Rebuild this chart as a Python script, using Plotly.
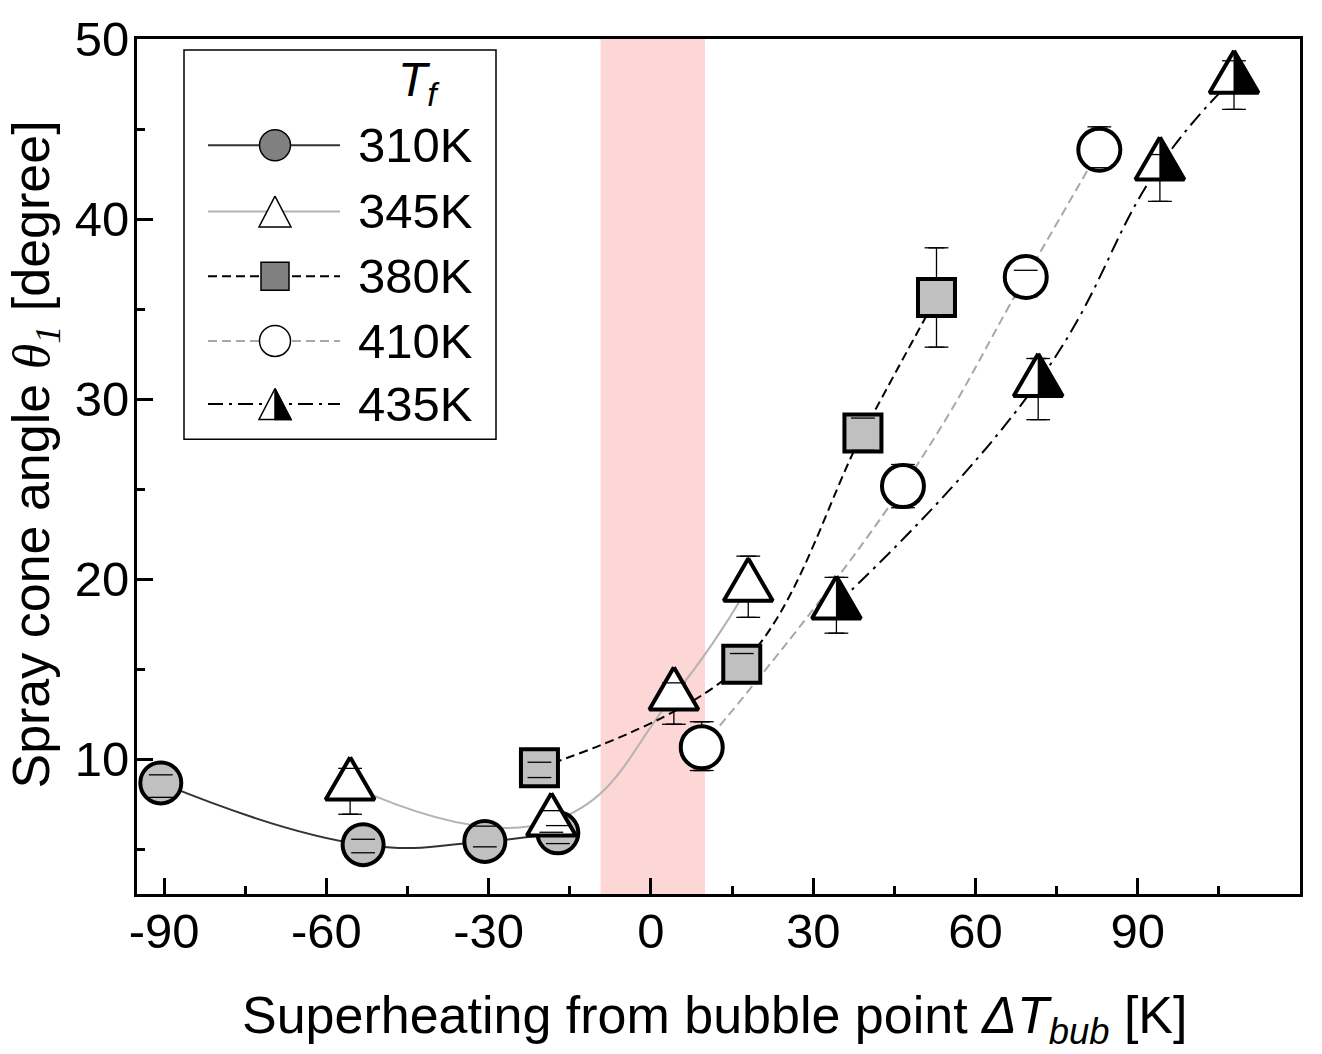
import plotly.graph_objects as go

# ---- measured data: spray cone angle vs. superheating, per fuel temperature ----
labels = ["310K", "345K", "380K", "410K", "435K"]

dT_310 = [-90.6, -53.2, -30.7, -17.2]
theta_310 = [8.67, 5.24, 5.42, 5.90]
err_up_310 = [0.45, 0.3, 0.85, 0.4]
err_dn_310 = [0.8, 0.45, 0.3, 0.6]

dT_345 = [-55.6, -18.4, 4.25, 18.0]
theta_345 = [8.53, 6.53, 13.53, 19.57]
err_up_345 = [0.95, 0.6, 0.7, 1.7]
err_dn_345 = [1.6, 0.6, 1.6, 1.7]

dT_380 = [-20.6, 16.8, 39.2, 52.8]
theta_380 = [9.52, 15.26, 28.11, 35.64]
err_up_380 = [0.3, 0.6, 0.83, 2.76]
err_dn_380 = [0.55, 1.0, 0.96, 2.76]

dT_410 = [9.4, 46.6, 69.3, 82.9]
theta_410 = [10.65, 25.16, 36.78, 43.85]
err_up_410 = [1.42, 1.2, 0.37, 1.27]
err_dn_410 = [1.29, 1.2, 1.1, 1.0]

dT_435 = [34.3, 71.6, 94.1, 107.8]
theta_435 = [18.59, 30.95, 42.98, 47.79]
err_up_435 = [1.5, 1.3, 0.6, 1.0]
err_dn_435 = [1.6, 2.1, 2.0, 1.7]

# bubble-point transition band
band_lo, band_hi = -9.3, 10.0

x_ticks = [-90, -60, -30, 0, 30, 60, 90, 120]
y_ticks = [10, 20, 30, 40, 50]

# ---- figure geometry ----
W, H = 1322, 1054
M_L, M_R, M_T, M_B = 137, 22, 35, 160
PW, PH = W - M_L - M_R, H - M_T - M_B
X_RANGE = [-95, 120]
Y_RANGE = [2.5, 50]
kx = (X_RANGE[1] - X_RANGE[0]) / PW   # data units per pixel
ky = (Y_RANGE[1] - Y_RANGE[0]) / PH

FONT = "Liberation Sans, Arial, sans-serif"
SERIF = "Liberation Serif, Times New Roman, serif"
GREY_FILL = "#c0c0c0"
DASH = "9px,5px"
DASHDOT = "15px,6px,3px,6px"


def triangle_paths(xs, ys, hw, h, sx, sy, half=False, centroid=True):
    """Closed triangle outlines (or right halves) around each point; hw/h in px."""
    px, py = [], []
    for x, y in zip(xs, ys):
        top = (2 * h / 3) if centroid else h / 2
        bot = (h / 3) if centroid else h / 2
        ax, ay = x, y + top * sy
        by = y - bot * sy
        if half:
            px += [ax, x + hw * sx, x, ax, None]
            py += [ay, by, by, ay, None]
        else:
            px += [ax, x + hw * sx, x - hw * sx, ax, None]
            py += [ay, by, by, ay, None]
    return px, py


fig = go.Figure()

# ---- connecting curves ----
curve_specs = [
    (dT_310, theta_310, 1.3, dict(color="#333333", width=2)),
    (dT_345, theta_345, 1.3, dict(color="#b3b3b3", width=2)),
    (dT_380, theta_380, 1.0, dict(color="black", width=2, dash=DASH)),
    (dT_410, theta_410, 1.3, dict(color="#a8a8a8", width=2, dash=DASH)),
    (dT_435, theta_435, 1.3, dict(color="black", width=2, dash=DASHDOT)),
]
for xs, ys, sm, ln in curve_specs:
    fig.add_trace(go.Scatter(x=xs, y=ys, mode="lines",
                             line=dict(shape="spline", smoothing=sm, **ln),
                             showlegend=False, hoverinfo="skip"))

# ---- error bars (behind the symbols) ----
err_specs = [
    (dT_310, theta_310, err_up_310, err_dn_310),
    (dT_345, theta_345, err_up_345, err_dn_345),
    (dT_380, theta_380, err_up_380, err_dn_380),
    (dT_410, theta_410, err_up_410, err_dn_410),
    (dT_435, theta_435, err_up_435, err_dn_435),
]
for xs, ys, up, dn in err_specs:
    fig.add_trace(go.Scatter(x=xs, y=ys, mode="markers", showlegend=False,
                             marker=dict(size=1, color="rgba(0,0,0,0)"),
                             error_y=dict(type="data", symmetric=False, array=up,
                                          arrayminus=dn, color="black",
                                          thickness=1.3, width=8),
                             hoverinfo="skip"))

# ---- symbols ----
fig.add_trace(go.Scatter(x=dT_310, y=theta_310, mode="markers", showlegend=False,
                         marker=dict(symbol="circle", size=41, color=GREY_FILL,
                                     line=dict(color="black", width=4))))

tx, ty = triangle_paths(dT_345, theta_345, 24.5, 42.4, kx, ky)
fig.add_trace(go.Scatter(x=tx, y=ty, mode="lines", fill="toself", fillcolor="white",
                         line=dict(color="black", width=4), showlegend=False,
                         hoverinfo="skip"))

fig.add_trace(go.Scatter(x=dT_380, y=theta_380, mode="markers", showlegend=False,
                         marker=dict(symbol="square", size=37, color=GREY_FILL,
                                     line=dict(color="black", width=4))))

fig.add_trace(go.Scatter(x=dT_410, y=theta_410, mode="markers", showlegend=False,
                         marker=dict(symbol="circle", size=42, color="white",
                                     line=dict(color="black", width=4))))

tx, ty = triangle_paths(dT_435, theta_435, 24.5, 42.4, kx, ky)
fig.add_trace(go.Scatter(x=tx, y=ty, mode="lines", fill="toself", fillcolor="white",
                         line=dict(color="black", width=4), showlegend=False,
                         hoverinfo="skip"))
tx, ty = triangle_paths(dT_435, theta_435, 24.5, 42.4, kx, ky, half=True)
fig.add_trace(go.Scatter(x=tx, y=ty, mode="lines", fill="toself", fillcolor="black",
                         line=dict(color="black", width=1), showlegend=False,
                         hoverinfo="skip"))

# ---- error-bar caps repeated on top so the ones inside a symbol stay visible ----
for xs, ys, up, dn in err_specs:
    cap_x = list(xs) + list(xs)
    cap_y = [y + u for y, u in zip(ys, up)] + [y - d for y, d in zip(ys, dn)]
    fig.add_trace(go.Scatter(x=cap_x, y=cap_y, mode="markers", showlegend=False,
                             marker=dict(symbol="line-ew", size=17,
                                         line=dict(color="black", width=1.3)),
                             hoverinfo="skip"))

# ---- hand-drawn legend in a pixel-unit overlay (origin at plot top-left) ----
rows_y = [106.7, 173.3, 238.3, 303.3, 366.7]
line_x = [71, 203]
mark_x = 138
label_x = 219

legend_lines = [
    dict(color="#333333", width=2),
    dict(color="#b3b3b3", width=2),
    dict(color="black", width=2, dash=DASH),
    dict(color="#a8a8a8", width=2, dash=DASH),
    dict(color="black", width=2, dash=DASHDOT),
]
for ry, ln in zip(rows_y, legend_lines):
    fig.add_trace(go.Scatter(x=line_x, y=[ry, ry], mode="lines", line=ln,
                             xaxis="x2", yaxis="y2", showlegend=False,
                             hoverinfo="skip"))

fig.add_trace(go.Scatter(x=[mark_x], y=[rows_y[0]], mode="markers", xaxis="x2",
                         yaxis="y2", showlegend=False, hoverinfo="skip",
                         marker=dict(symbol="circle", size=31, color="#808080",
                                     line=dict(color="black", width=1.5))))
fig.add_trace(go.Scatter(x=[mark_x], y=[rows_y[2]], mode="markers", xaxis="x2",
                         yaxis="y2", showlegend=False, hoverinfo="skip",
                         marker=dict(symbol="square", size=28, color="#808080",
                                     line=dict(color="black", width=1.5))))
fig.add_trace(go.Scatter(x=[mark_x], y=[rows_y[3]], mode="markers", xaxis="x2",
                         yaxis="y2", showlegend=False, hoverinfo="skip",
                         marker=dict(symbol="circle", size=31, color="white",
                                     line=dict(color="black", width=1.5))))
for ry, half in [(rows_y[1], False), (rows_y[4], False), (rows_y[4], True)]:
    lx, ly = triangle_paths([mark_x], [ry], 16, 31, 1, -1, half=half, centroid=False)
    fig.add_trace(go.Scatter(x=lx, y=ly, mode="lines", fill="toself",
                             fillcolor="black" if half else "white",
                             line=dict(color="black", width=1.5),
                             xaxis="x2", yaxis="y2", showlegend=False,
                             hoverinfo="skip"))

annotations = []
for ry, lab in zip(rows_y, labels):
    annotations.append(dict(x=label_x, y=ry, xref="x2", yref="y2", text=lab,
                            showarrow=False, xanchor="left", yanchor="middle",
                            font=dict(family=FONT, size=49, color="black")))
annotations.append(dict(x=282, y=44, xref="x2", yref="y2",
                        text="<i>T</i><sub><i>f</i></sub>", showarrow=False,
                        xanchor="center", yanchor="middle",
                        font=dict(family=FONT, size=48, color="black")))

# ---- axis titles ----
annotations.append(dict(
    x=(714.5 - M_L) / PW, y=(M_T + PH - 1020) / PH, xref="paper", yref="paper",
    text="Superheating from bubble point <i>ΔT</i><sub><i>bub</i></sub> [K]",
    showarrow=False, xanchor="center", yanchor="middle",
    font=dict(family=FONT, size=52, color="black")))
annotations.append(dict(
    x=(35 - M_L) / PW, y=(M_T + PH - 452.5) / PH, xref="paper", yref="paper",
    text=("Spray cone angle <span style=\"font-family:" + SERIF + "\"><i>θ</i>"
          "<sub><i>1</i></sub></span> [degree]"),
    textangle=-90, showarrow=False, xanchor="center", yanchor="middle",
    font=dict(family=FONT, size=52, color="black")))

shapes = [
    dict(type="rect", xref="x", yref="paper", x0=band_lo, x1=band_hi, y0=0, y1=1,
         fillcolor="#fdd6d6", line=dict(width=0), layer="below"),
    dict(type="rect", xref="paper", yref="paper",
         x0=(184 - M_L) / PW, x1=(496 - M_L) / PW,
         y0=(M_T + PH - 437) / PH, y1=(M_T + PH - 46) / PH,
         fillcolor="white", line=dict(color="black", width=1.5), layer="below"),
]

axis_common = dict(showgrid=False, zeroline=False, showline=True, linecolor="black",
                   linewidth=3, mirror=True, ticks="inside", ticklen=16,
                   tickwidth=2.5, tickcolor="black",
                   tickfont=dict(family=FONT, size=49, color="black"))

fig.update_layout(
    width=W, height=H, autosize=False,
    margin=dict(l=M_L, r=M_R, t=M_T, b=M_B, pad=0),
    paper_bgcolor="white", plot_bgcolor="white",
    showlegend=False,
    xaxis=dict(range=X_RANGE, tickmode="array", tickvals=x_ticks,
               ticktext=[str(v) for v in x_ticks], ticklabelstandoff=-8,
               minor=dict(dtick=15, tick0=0, ticks="inside", ticklen=8,
                          tickwidth=2.5, tickcolor="black", showgrid=False),
               **axis_common),
    yaxis=dict(range=Y_RANGE, tickmode="array", tickvals=y_ticks,
               ticktext=[str(v) for v in y_ticks], ticklabelstandoff=-5,
               minor=dict(dtick=5, tick0=0, ticks="inside", ticklen=8,
                          tickwidth=2.5, tickcolor="black", showgrid=False),
               **axis_common),
    xaxis2=dict(overlaying="x", range=[0, PW], visible=False, anchor="y2"),
    yaxis2=dict(overlaying="y", range=[PH, 0], visible=False, anchor="x2"),
    shapes=shapes,
    annotations=annotations,
)

fig.write_html("out.html")
